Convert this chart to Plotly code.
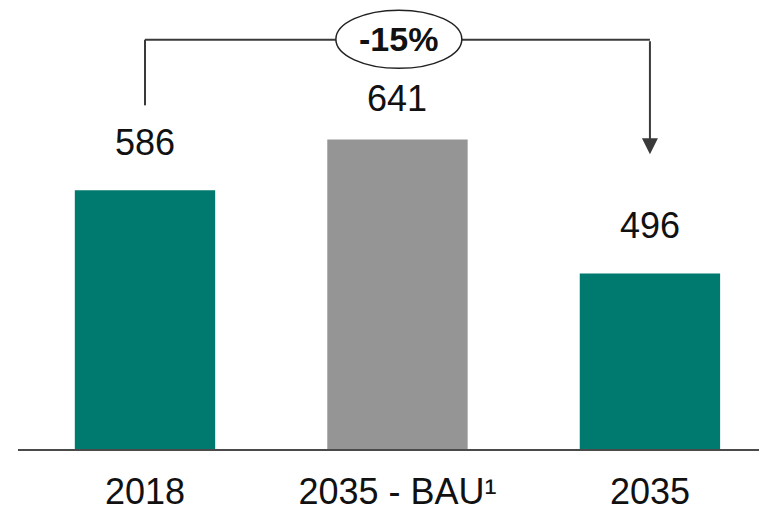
import plotly.graph_objects as go

categories = ["2018", "2035 - BAU¹", "2035"]
values = [586, 641, 496]
bar_colors = ["#00796E", "#959595", "#00796E"]
change_label = "-15%"

# layout constants (data units / pixels)
Y_MIN, Y_MAX = 306, 792
X_MIN, X_MAX = -0.503, 2.432
BRACKET_Y = 749
LEFT_END_Y = 678
ARROW_TIP_Y = 625
ELL_X0, ELL_X1 = 0.756, 1.255
ELL_Y0, ELL_Y1 = 718, 781
LABEL_SHIFT = [25, 19, 25]

FONT = "Liberation Sans, Arial, sans-serif"
LINE_C = "#3a3a3a"

xs = list(range(len(categories)))

fig = go.Figure(go.Bar(
    x=xs, y=values, marker=dict(color=bar_colors, line=dict(width=0)),
    width=0.556, hoverinfo="skip",
))

shapes = [
    dict(type="line", xref="x", yref="y", x0=xs[0], x1=xs[0], y0=LEFT_END_Y, y1=BRACKET_Y,
         line=dict(color=LINE_C, width=2)),
    dict(type="line", xref="x", yref="y", x0=xs[0], x1=ELL_X0, y0=BRACKET_Y, y1=BRACKET_Y,
         line=dict(color=LINE_C, width=2)),
    dict(type="line", xref="x", yref="y", x0=ELL_X1, x1=xs[2], y0=BRACKET_Y, y1=BRACKET_Y,
         line=dict(color=LINE_C, width=2)),
    dict(type="circle", xref="x", yref="y", x0=ELL_X0, x1=ELL_X1, y0=ELL_Y0, y1=ELL_Y1,
         line=dict(color="#222222", width=1.5), fillcolor="white"),
]

annotations = []
for x, v, s in zip(xs, values, LABEL_SHIFT):
    annotations.append(dict(x=x, y=v, xref="x", yref="y", text=str(v), showarrow=False,
                            yanchor="bottom", yshift=s,
                            font=dict(family=FONT, size=36, color="#111111")))
annotations.append(dict(x=(ELL_X0 + ELL_X1) / 2, y=(ELL_Y0 + ELL_Y1) / 2, xref="x", yref="y",
                        text="<b>" + change_label + "</b>", showarrow=False,
                        font=dict(family=FONT, size=34, color="#111111")))
annotations.append(dict(x=xs[2], y=ARROW_TIP_Y, ax=xs[2], ay=BRACKET_Y, xref="x", yref="y",
                        axref="x", ayref="y", text="", showarrow=True, arrowhead=2,
                        arrowsize=1.6, arrowwidth=2, arrowcolor=LINE_C, standoff=0))

fig.update_layout(
    width=759, height=512,
    margin=dict(l=18, r=0, t=0, b=60),
    paper_bgcolor="white", plot_bgcolor="white",
    showlegend=False,
    shapes=shapes, annotations=annotations,
    xaxis=dict(range=[X_MIN, X_MAX], tickmode="array", tickvals=xs, ticktext=categories,
               showgrid=False, zeroline=False, showline=True, linecolor="#4a4a4a", linewidth=2,
               ticks="", ticklabelstandoff=10,
               tickfont=dict(family=FONT, size=36, color="#111111"), fixedrange=True),
    yaxis=dict(range=[Y_MIN, Y_MAX], visible=False, showgrid=False, zeroline=False, fixedrange=True),
)

fig.write_html("out.html", config={"displayModeBar": False},
               post_script="document.body.style.margin='0';document.body.style.overflow='hidden';")
